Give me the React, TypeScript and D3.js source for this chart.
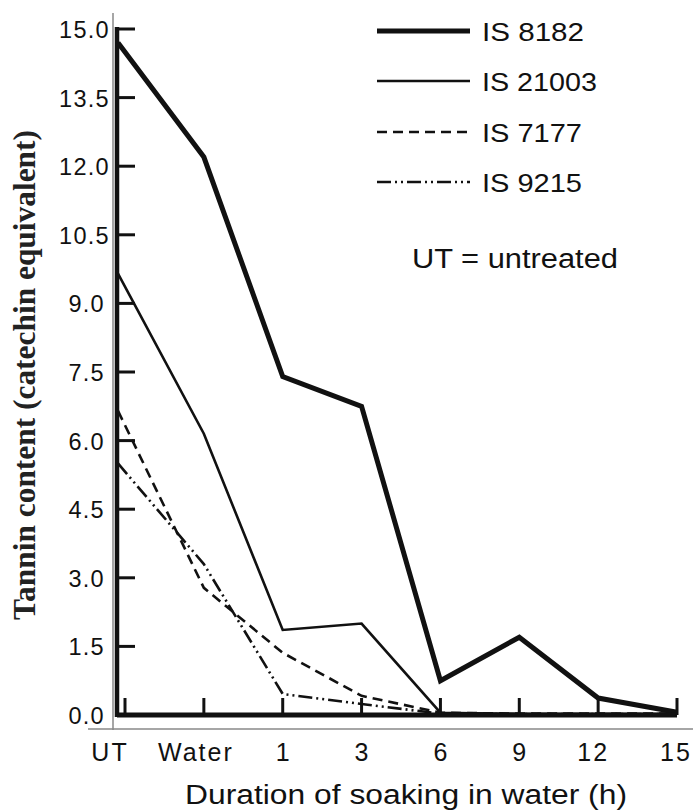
import React from "react";
import * as d3 from "d3";

const categories = ["UT", "Water", "1", "3", "6", "9", "12", "15"];
const is8182 = [14.7, 12.2, 7.4, 6.75, 0.75, 1.7, 0.37, 0.06];
const is21003 = [9.65, 6.15, 1.86, 2.0, 0.05, 0.02, 0.02, 0.02];
const is7177 = [6.65, 2.78, 1.36, 0.42, 0.05, 0.03, 0.03, 0.03];
const is9215 = [5.5, 3.3, 0.46, 0.24, 0.03, 0.02, 0.02, 0.02];
const yTickValues = [0, 1.5, 3, 4.5, 6, 7.5, 9, 10.5, 12, 13.5, 15];
const seriesNames = ["IS  8182", "IS  21003", "IS  7177", "IS  9215"];
const xTitle = "Duration of soaking in water (h)";
const yTitle = "Tannin content (catechin equivalent)";
const note = "UT  =  untreated";

const W = 693;
const H = 812;
const axisX = 117;
const baseY = 715;

const seriesStyles = [
  { width: 5, dash: null },
  { width: 2.6, dash: null },
  { width: 2.6, dash: "10,6" },
  { width: 2.6, dash: "14,4,2,4,2,4" },
];

const sans = "'Liberation Sans', Arial, sans-serif";

export default function App() {
  const x = d3.scalePoint<string>().domain(categories).range([125, 677]);
  const y = d3.scaleLinear().domain([0, 15]).range([baseY, 29]);
  const px = (i: number) => (i === 0 ? axisX + 1 : (x(categories[i]) as number));
  const line = d3
    .line<number>()
    .x((_, i) => px(i))
    .y((v) => y(v));
  const allSeries = [is8182, is21003, is7177, is9215];
  const labelDx: Record<string, number> = { UT: -15, Water: -8, "12": -5, "15": -1 };
  const legendY = [31, 81, 132, 182];
  const legendLen = [102, 115, 100, 100];

  return (
    <svg
      width={W}
      height={H}
      style={{ position: "absolute", left: 0, top: 0, background: "#fff" }}
    >
      <rect x={0} y={0} width={W} height={H} fill="#fff" />
      {/* thin grey frame lines */}
      <line x1={113} x2={113} y1={13} y2={730} stroke="#888" strokeWidth={1.5} />
      <line x1={88} x2={693} y1={729} y2={729} stroke="#888" strokeWidth={1.5} />

      {/* series */}
      {allSeries.map((s, k) => (
        <path
          key={k}
          d={line(s) || ""}
          fill="none"
          stroke="#111"
          strokeWidth={seriesStyles[k].width}
          strokeDasharray={seriesStyles[k].dash || undefined}
          strokeLinejoin="miter"
        />
      ))}

      {/* thick axes */}
      <line x1={axisX} x2={axisX} y1={27} y2={baseY + 2} stroke="#111" strokeWidth={4.5} />
      <line x1={axisX} x2={677} y1={baseY} y2={baseY} stroke="#111" strokeWidth={5} />

      {/* y ticks */}
      {yTickValues.map((v) => {
        const lab = v.toFixed(1);
        return (
          <g key={v}>
            <line x1={axisX} x2={135} y1={y(v)} y2={y(v)} stroke="#111" strokeWidth={3} />
            <text
              x={lab.length > 3 ? 110 : 105}
              y={y(v) + 9}
              textAnchor="end"
              fontFamily={sans}
              fontSize={23.5}
              letterSpacing={1.3}
              fill="#111"
            >
              {lab}
            </text>
          </g>
        );
      })}

      {/* x ticks */}
      {categories.map((c) => (
        <g key={c}>
          <line
            x1={x(c) as number}
            x2={x(c) as number}
            y1={baseY}
            y2={698}
            stroke="#111"
            strokeWidth={3}
          />
          <text
            x={(x(c) as number) + (labelDx[c] || 0)}
            y={761}
            textAnchor="middle"
            fontFamily={sans}
            fontSize={25}
            letterSpacing={c.length > 1 ? 2 : 0}
            fill="#111"
          >
            {c}
          </text>
        </g>
      ))}

      {/* axis titles */}
      <text
        x={185}
        y={804}
        fontFamily={sans}
        fontSize={27}
        textLength={442}
        lengthAdjust="spacingAndGlyphs"
        fill="#111"
      >
        {xTitle}
      </text>
      <text
        transform={`translate(35,620) rotate(-90)`}
        fontFamily="'Liberation Serif', 'Times New Roman', serif"
        fontWeight="bold"
        fontSize={32}
        textLength={490}
        lengthAdjust="spacingAndGlyphs"
        fill="#222"
      >
        {yTitle}
      </text>

      {/* legend */}
      {seriesNames.map((n, k) => (
        <g key={n}>
          <line
            x1={377}
            x2={470}
            y1={legendY[k]}
            y2={legendY[k]}
            stroke="#111"
            strokeWidth={seriesStyles[k].width}
            strokeDasharray={seriesStyles[k].dash || undefined}
          />
          <text
            x={482}
            y={legendY[k] + 10}
            fontFamily={sans}
            fontSize={26}
            textLength={legendLen[k]}
            lengthAdjust="spacingAndGlyphs"
            fill="#111"
          >
            {n}
          </text>
        </g>
      ))}
      <text
        x={412}
        y={268}
        fontFamily={sans}
        fontSize={27}
        textLength={206}
        lengthAdjust="spacingAndGlyphs"
        fill="#111"
      >
        {note}
      </text>
    </svg>
  );
}
